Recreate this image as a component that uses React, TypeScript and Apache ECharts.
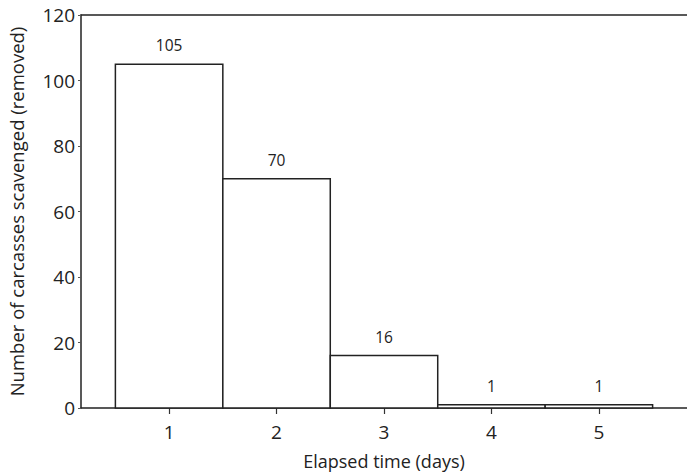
import React, { useEffect, useRef } from "react";
import * as echarts from "echarts";

const days = [1, 2, 3, 4, 5];
const removed = [105, 70, 16, 1, 1];
const yTicks = [0, 20, 40, 60, 80, 100, 120];

export default function App() {
  const ref = useRef<HTMLDivElement>(null);
  useEffect(() => {
    const chart = echarts.init(ref.current!, null, { renderer: "svg" });
    const font = "'Open Sans', 'Noto Sans', sans-serif";
    chart.setOption({
      animation: false,
      backgroundColor: "#fff",
      grid: { left: 81, right: 0, top: 15, bottom: 68, outerBoundsMode: "none", containLabel: false },
      xAxis: [
        {
          type: "value",
          min: 0.18,
          max: 5.82,
          splitLine: { show: false },
          axisLine: { show: true, lineStyle: { color: "#222", width: 1.5 } },
          axisTick: { show: true, length: 6, customValues: days, lineStyle: { color: "#333", width: 1.2 } },
          axisLabel: {
            fontSize: 19,
            color: "#222",
            fontFamily: font,
            margin: 14,
            customValues: days,
          },
          name: "Elapsed time (days)",
          nameLocation: "middle",
          nameGap: 44,
          nameTextStyle: { fontSize: 18, color: "#222", fontFamily: font },
        },
        {
          type: "value",
          position: "top",
          min: 0.18,
          max: 5.82,
          splitLine: { show: false },
          axisLine: { show: true, lineStyle: { color: "#222", width: 1.5 } },
          axisTick: { show: false },
          axisLabel: { show: false },
        },
      ],
      yAxis: {
        type: "value",
        min: 0,
        max: 120,
        interval: 20,
        splitLine: { show: false },
        axisLine: { show: true, lineStyle: { color: "#222", width: 1.5 } },
        axisTick: { show: true, length: 3, lineStyle: { color: "#555", width: 1 } },
        axisLabel: {
          fontSize: 19,
          color: "#222",
          fontFamily: font,
          margin: 6,
          formatter: (v: number) => (yTicks.includes(v) ? String(v) : ""),
        },
        name: "Number of carcasses scavenged (removed)",
        nameLocation: "middle",
        nameGap: 55,
        nameTextStyle: { fontSize: 18.5, color: "#222", fontFamily: font },
      },
      series: [
        {
          type: "custom",
          xAxisIndex: 0,
          data: days.map((d, i) => [d, removed[i]]),
          renderItem: (params: any, api: any) => {
            const x = api.value(0);
            const v = api.value(1);
            const tl = api.coord([x - 0.5, v]);
            const br = api.coord([x + 0.5, 0]);
            return {
              type: "group",
              children: [
                {
                  type: "rect",
                  shape: { x: tl[0], y: tl[1], width: br[0] - tl[0], height: br[1] - tl[1] },
                  style: { fill: "#fff", stroke: "#222", lineWidth: 1.5 },
                },
                {
                  type: "text",
                  x: (tl[0] + br[0]) / 2,
                  y: tl[1] - 11,
                  style: {
                    text: String(v),
                    fontSize: 15.5,
                    fontFamily: font,
                    fill: "#222",
                    align: "center",
                    verticalAlign: "bottom",
                  },
                },
              ],
            };
          },
        },
      ],
    });
    return () => chart.dispose();
  }, []);
  return <div ref={ref} style={{ width: 687, height: 476, position: "absolute", left: 0, top: 0 }} />;
}
